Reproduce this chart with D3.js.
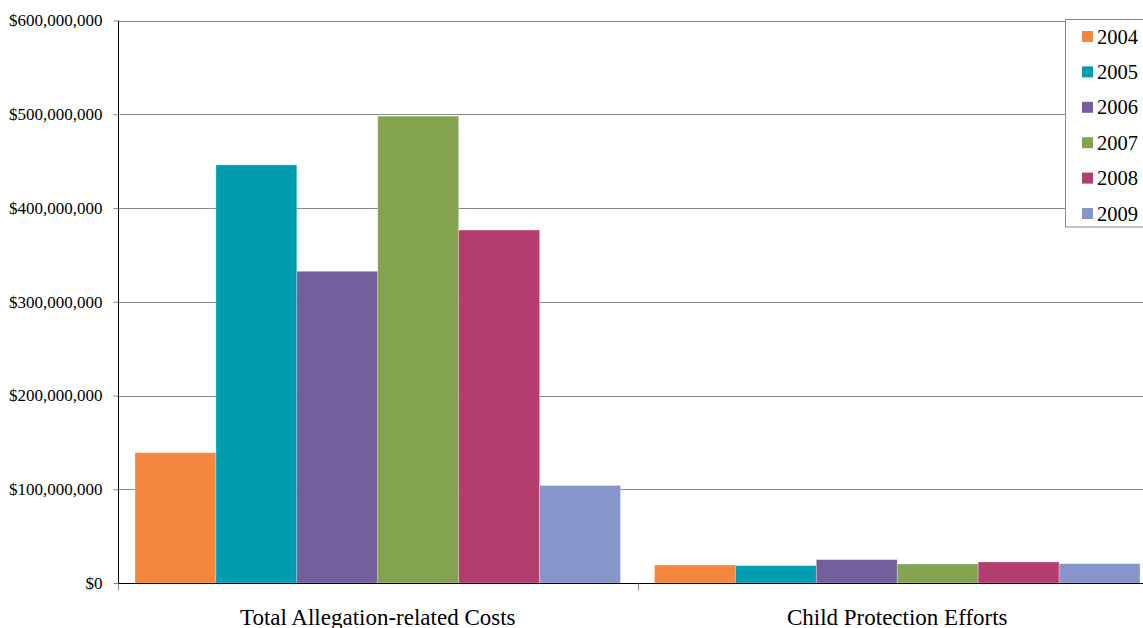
<!DOCTYPE html>
<html><head><meta charset="utf-8">
<script src="https://cdn.jsdelivr.net/npm/d3@7"></script>
<style>body{margin:0;background:#fff;overflow:hidden}svg{display:block}</style>
</head><body>
<svg id="c" width="1143" height="628"></svg>
<script>
const categories = ["Total Allegation-related Costs", "Child Protection Efforts"];
const years = ["2004", "2005", "2006", "2007", "2008", "2009"];
const colors = ["#F4873D", "#009DB0", "#745E9C", "#84A34F", "#B23D6E", "#8696CB"];
const values = {
  "2004": [139000000, 19200000],
  "2005": [446000000, 18500000],
  "2006": [332500000, 24900000],
  "2007": [498000000, 20300000],
  "2008": [376500000, 22400000],
  "2009": [104000000, 20600000]
};
const yTicks = [0, 100000000, 200000000, 300000000, 400000000, 500000000, 600000000];

const svg = d3.select("#c");
const mL = 118, mR = 1157, mT = 20.5, mB = 583;
const font = "'Liberation Serif','Times New Roman',serif";

const x0 = d3.scaleBand().domain(categories).range([mL, mR]).paddingInner(0).paddingOuter(0);
const x1 = d3.scaleBand().domain(years).range([0, x0.bandwidth()]).paddingOuter(0.21).paddingInner(0);
const y = d3.scaleLinear().domain([0, 600000000]).range([mB, mT]);

// gridlines
svg.append("g").selectAll("line").data(yTicks.filter(d => d > 0)).join("line")
  .attr("x1", mL).attr("x2", mR)
  .attr("y1", d => Math.round(y(d)) + 0.5).attr("y2", d => Math.round(y(d)) + 0.5)
  .attr("stroke", "#8a8a8a").attr("stroke-width", 1);

// bars
const g = svg.append("g");
categories.forEach((c, ci) => {
  years.forEach((yr, yi) => {
    const v = values[yr][ci];
    g.append("rect")
      .attr("x", x0(c) + x1(yr))
      .attr("y", y(v))
      .attr("width", x1.bandwidth())
      .attr("height", y(0) - y(v))
      .attr("fill", colors[yi])
      .attr("stroke", "rgba(255,255,255,0.35)")
      .attr("stroke-width", 0.8);
  });
});

// y axis
const yAxis = d3.axisLeft(y).tickValues(yTicks).tickSize(5).tickPadding(11)
  .tickFormat(d => "$" + d3.format(",")(d));
const ya = svg.append("g").attr("transform", `translate(${mL + 0.5},0)`).call(yAxis);
ya.select(".domain").attr("stroke", "#000").attr("d", `M0,${mT}V${mB}`);
ya.selectAll(".tick line").attr("stroke", "#8a8a8a");
ya.selectAll(".tick text").attr("font-family", font).attr("font-size", 17).attr("fill", "#000");

// x axis
const xAxis = d3.axisBottom(x0).tickSize(0).tickPadding(25);
const xa = svg.append("g").attr("transform", `translate(0,${mB + 0.5})`).call(xAxis);
xa.select(".domain").attr("stroke", "#000").attr("d", `M${mL},0H${mR}`);
xa.selectAll(".tick text").attr("font-family", font).attr("font-size", 23).attr("fill", "#000");
// category boundary ticks
xa.append("g").selectAll("line").data([...categories.map(c => x0(c)), mR]).join("line")
  .attr("x1", d => Math.round(d) + 0.5).attr("x2", d => Math.round(d) + 0.5)
  .attr("y1", 0).attr("y2", 7).attr("stroke", "#8a8a8a");

// legend
const lg = svg.append("g");
lg.append("rect").attr("x", 1065.5).attr("y", 19.5).attr("width", 100).attr("height", 207.5)
  .attr("fill", "#fff").attr("stroke", "#8a8a8a");
years.forEach((yr, i) => {
  const yy = 31 + i * 35.4;
  lg.append("rect").attr("x", 1082).attr("y", yy).attr("width", 11).attr("height", 11).attr("fill", colors[i]);
  lg.append("text").attr("x", 1097).attr("y", yy + 12.5).attr("font-family", font)
    .attr("font-size", 20.5).attr("fill", "#000").text(yr);
});
</script>
</body></html>
